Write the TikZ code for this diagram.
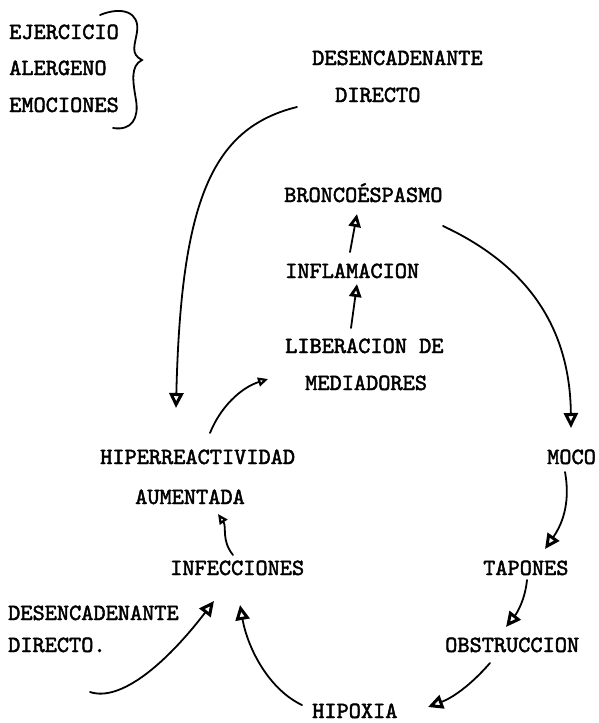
\documentclass[tikz,border=0pt]{standalone}
\usepackage{fontspec}
\newfontfamily\tw{lmmono10-regular.otf}[FakeBold=2]
\usetikzlibrary{arrows.meta}
\begin{document}
\begin{tikzpicture}[x=1pt,y=-1pt,
  txt/.style={font=\tw\fontsize{23.2}{28}\selectfont, inner sep=0pt, anchor=base west, text=black},
  ln/.style={line width=1.8pt, draw=black, line cap=round},
  arr/.style={ln, -{Triangle[open,length=15pt,width=14pt,line width=3pt]}},
  arrm/.style={ln, -{Triangle[open,length=13pt,width=12pt,line width=2.8pt]}},
  arrs/.style={ln, -{Triangle[open,length=10pt,width=9pt,line width=2.2pt]}}]
\fill[white] (0,0) rectangle (598,723);
\useasboundingbox (0,0) rectangle (598,723);

% texts
\node[txt] (ej) at (9,39) {EJERCICIO};
\node[txt] (al) at (9,75) {ALERGENO};
\node[txt] (em) at (9,112) {EMOCIONES};
\node[txt] (d1a) at (312,65) {DESENCADENANTE};
\node[txt] (d1b) at (335,102) {DIRECTO};
\node[txt] (bron) at (284,202) {BRONCOÉSPASMO};
\node[txt] (infl) at (285,278) {INFLAMACION};
\node[txt] (lib1) at (285,353) {LIBERACION DE};
\node[txt] (lib2) at (305,390) {MEDIADORES};
\node[txt] (hip1) at (100,464) {HIPERREACTIVIDAD};
\node[txt] (hip2) at (135,504) {AUMENTADA};
\node[txt] (inf) at (170,575) {INFECCIONES};
\node[txt] (moco) at (547,464) {MOCO};
\node[txt] (tap) at (483,575) {TAPONES};
\node[txt] (obs) at (445,652) {OBSTRUCCION};
\node[txt] (d2a) at (8,620) {DESENCADENANTE};
\node[txt] (d2b) at (8,652) {DIRECTO.};
\node[txt] (hpx) at (312,718) {HIPOXIA};

% brace
\draw[ln] (100,15) .. controls (122,6) and (140,12) .. (137,32)
  .. controls (135,45) and (130,54) .. (142,60)
  .. controls (130,66) and (133,82) .. (136,100)
  .. controls (139,118) and (132,131) .. (113,128);

% connector end points
\coordinate (s1) at (297,107); \coordinate (e1) at (176,408);
\coordinate (s2) at (210,433); \coordinate (e2) at (268,379);
\coordinate (s3) at (351,328); \coordinate (e3) at (357,284);
\coordinate (s4) at (350,252); \coordinate (e4) at (357,214);
\coordinate (s5) at (443,226); \coordinate (e5) at (571,428);
\coordinate (s6) at (565,472); \coordinate (e6) at (545,549);
\coordinate (s7) at (527,580); \coordinate (e7) at (506,627);
\coordinate (s8) at (490,663); \coordinate (e8) at (428,707);
\coordinate (s9) at (302,705); \coordinate (e9) at (240,605);
\coordinate (s10) at (90,692); \coordinate (e10) at (214,601);
\coordinate (s11) at (233,555); \coordinate (e11) at (218,514);

% connectors
\draw[arr] (s1) .. controls (212,128) and (181,200) .. (e1);
\draw[arrs] (s2) .. controls (220,408) and (240,388) .. (e2);
\draw[arrm] (s3) -- (e3);
\draw[arrm] (s4) -- (e4);
\draw[arr] (s5) .. controls (520,262) and (570,320) .. (e5);
\draw[arr] (s6) .. controls (571,505) and (561,526) .. (e6);
\draw[arr] (s7) .. controls (525,600) and (517,613) .. (e7);
\draw[arr] (s8) .. controls (470,686) and (452,698) .. (e8);
\draw[arr] (s9) .. controls (270,690) and (248,650) .. (e9);
\draw[arr] (s10) .. controls (120,702) and (165,665) .. (e10);
\draw[arrs] (s11) .. controls (221,540) and (227,527) .. (e11);
\end{tikzpicture}
\end{document}
